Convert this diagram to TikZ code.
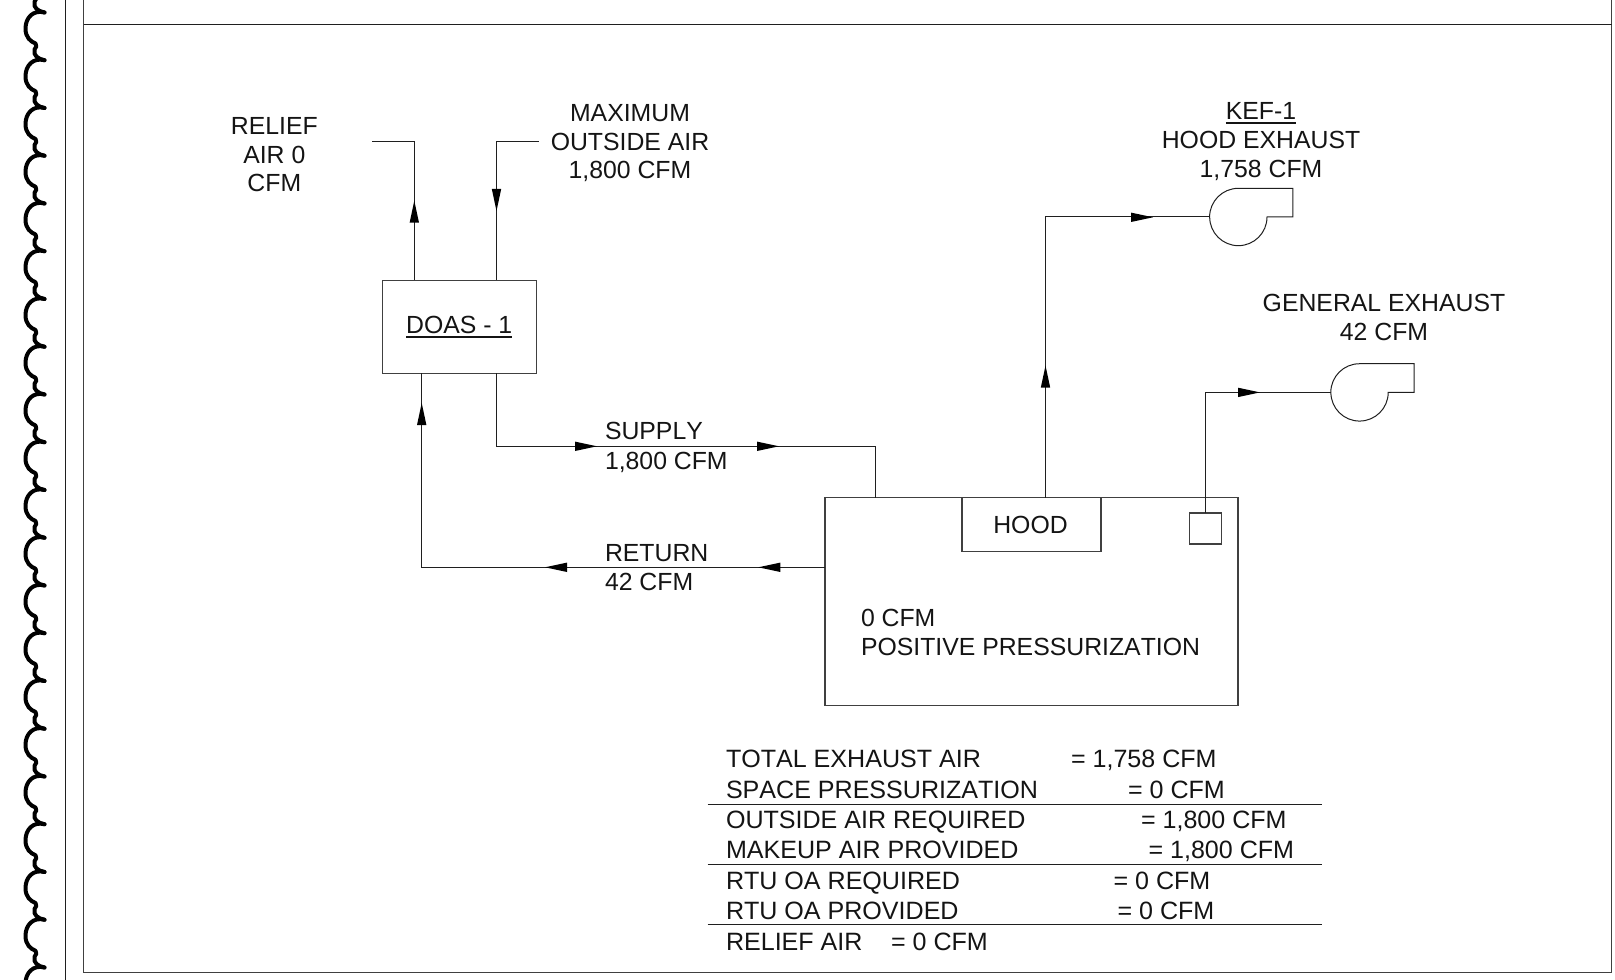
\documentclass[tikz,border=0pt]{standalone}
\usepackage{fontspec}
\setmainfont[Kerning=Off]{Liberation Sans}
\newcommand{\ulbl}[1]{\leavevmode\setbox0\hbox{#1}\rlap{\rule[-3.2pt]{\wd0}{1.3pt}}\box0 }
\tikzset{
  wire/.style={line width=0.75pt,draw=black!88},
  boxn/.style={rectangle,draw=black!75,line width=0.8pt,inner sep=0pt,outer sep=0pt},
  txt/.style={font=\fontsize{18.6}{21.2}\selectfont,inner sep=0pt,outer sep=0pt,text=black!92},
  lab/.style={txt,anchor=base west},
  tab/.style={lab,font=\fontsize{18.8}{21.2}\selectfont},
  mid/.style={txt,anchor=base,align=center},
  scallop/.style={line width=3pt,line cap=round,line join=round,draw=black},
  head/.pic={\fill[black] (0,0) -- (-22,-4.7) -- (-22,4.7) -- cycle;},
  fan/.pic={
    \coordinate (-in) at (0,0);
    \draw[wire] (0,0) arc[start angle=180,end angle=90,radius=21.5pt]
      -- (83.2,-28.7) -- (83.2,0) -- (57.4,0)
      arc[start angle=0,end angle=-180,radius=21.5pt];
  }
}
\begin{document}
\begin{tikzpicture}[x=0.75pt,y=-0.75pt]
\useasboundingbox (0,0) rectangle (1615,980);
% scalloped edge
\foreach \k in {-1,...,20}{
  \pgfmathsetmacro{\yy}{12.5+47.75*\k}
  \draw[scallop,shift={(44.5,\yy)}] (0,0)
    .. controls (-11,-3) and (-19,5) .. (-19,16)
    .. controls (-19,25) and (-14,29) .. (-9,31)
    .. controls (-7,33) and (-8.5,35) .. (-10,37)
    .. controls (-11.5,43) and (-6.5,46.5) .. (0,47.75);
}
% frame
\coordinate (ruleTop) at (65.5,-5);
\coordinate (ruleBot) at (65.5,985);
\draw[wire] (ruleTop) -- (ruleBot);
\coordinate (fTL) at (83.5,-5);
\coordinate (fBL) at (83.5,972.7);
\coordinate (fBR) at (1611.7,972.7);
\coordinate (fTR) at (1611.7,-5);
\draw[boxn,line width=1pt] (fTL) -- (fBL) -- (fBR) -- (fTR);
\coordinate (hL) at (83.5,25);
\coordinate (hR) at (1611.7,25);
\draw[wire] (hL) -- (hR);
% boxes
\node[boxn,txt,minimum width=154.3*0.75pt,minimum height=93*0.75pt] (doas) at (459.2,326.8) {\ulbl{DOAS - 1}};
\node[boxn,minimum width=413*0.75pt,minimum height=207.8*0.75pt] (room) at (1031.5,601.6) {};
\node[boxn,minimum width=139*0.75pt,minimum height=54.3*0.75pt] (hood) at (1031.5,524.8) {};
\node[txt] (hoodT) at (1030.5,524.8) {HOOD};
\node[boxn,minimum width=32*0.75pt,minimum height=31*0.75pt] (grille) at (1205.5,528.5) {};
% fans
\pic (fanA) at (1209.6,217) {fan};
\pic (fanB) at (1330.8,392.4) {fan};
% connectors
\coordinate (reliefEnd) at (372,141.7);
\coordinate (reliefX) at (414.3,141.7);
\draw[wire] (reliefEnd) -- (reliefX) -- (reliefX |- doas.north);
\coordinate (oaEnd) at (538.7,141.7);
\coordinate (oaX) at (496.5,141.7);
\draw[wire] (oaEnd) -- (oaX) -- (oaX |- doas.north);
\coordinate (supA) at (496.5,446.3);
\coordinate (supB) at (875.7,446.3);
\draw[wire] (supA |- doas.south) -- (supA) -- (supB) -- (supB |- room.north);
\coordinate (retA) at (825,567.3);
\coordinate (retB) at (421.7,567.3);
\draw[wire] (retA) -- (retB) -- (retB |- doas.south);
\coordinate (hoodX) at (1045.5,300);
\draw[wire] (hoodX |- room.north) |- (fanA-in);
\draw[wire] (grille.north) |- (fanB-in);
% arrowheads
\path (414.3,200.7) pic[rotate=90] {head};
\path (496.5,211) pic[rotate=-90] {head};
\path (421.7,403) pic[rotate=90] {head};
\path (597,446.3) pic {head};
\path (779,446.3) pic {head};
\path (758.3,567.3) pic[rotate=180] {head};
\path (545,567.3) pic[rotate=180] {head};
\path (1045.5,365.6) pic[rotate=90] {head};
\path (1153,217.3) pic {head};
\path (1260,392.4) pic {head};
% labels
\node[mid] (tRelief) at (274.3,191.3) {RELIEF\\AIR 0\\CFM};
\node[mid] (tOA) at (630,178.5) {MAXIMUM\\OUTSIDE AIR\\1,800 CFM};
\node[mid] (tKEF) at (1261,178) {\ulbl{KEF-1}\\[0.8pt]HOOD EXHAUST\\[0.8pt]1,758 CFM};
\node[mid] (tGen) at (1384,340) {GENERAL EXHAUST\\42 CFM};
\node[lab] (tSup1) at (605,439.3) {SUPPLY};
\node[lab] (tSup2) at (605,469) {1,800 CFM};
\node[lab] (tRet1) at (605,561.7) {RETURN};
\node[lab] (tRet2) at (605,590) {42 CFM};
\node[lab] (tPos1) at (861,626) {0 CFM};
\node[lab] (tPos2) at (861,655) {POSITIVE PRESSURIZATION};
% table
\node[tab] (r1) at (726,767.4) {TOTAL EXHAUST AIR};
\node[tab] (v1) at (1071,767.4) {= 1,758 CFM};
\node[tab] (r2) at (726,798) {SPACE PRESSURIZATION};
\node[tab] (v2) at (1128,798) {= 0 CFM};
\node[tab] (r3) at (726,828) {OUTSIDE AIR REQUIRED};
\node[tab] (v3) at (1141,828) {= 1,800 CFM};
\node[tab] (r4) at (726,858) {MAKEUP AIR PROVIDED};
\node[tab] (v4) at (1148.5,858) {= 1,800 CFM};
\node[tab] (r5) at (726,889) {RTU OA REQUIRED};
\node[tab] (v5) at (1113.5,889) {= 0 CFM};
\node[tab] (r6) at (726,919) {RTU OA PROVIDED};
\node[tab] (v6) at (1117.5,919) {= 0 CFM};
\node[tab] (r7) at (726,950.5) {RELIEF AIR};
\node[tab] (v7) at (891,950.5) {= 0 CFM};
\foreach \n/\yv in {a/804.5,b/864,c/924}{
  \coordinate (l\n) at (707.6,\yv);
  \coordinate (m\n) at (1321.5,\yv);
  \draw[wire] (l\n) -- (m\n);
}
\end{tikzpicture}
\end{document}
